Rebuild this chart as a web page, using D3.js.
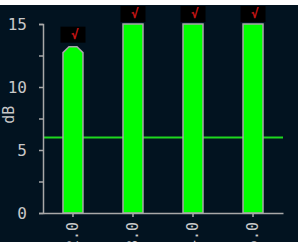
<!DOCTYPE html>
<html>
<head>
<meta charset="utf-8">
<script src="https://cdn.jsdelivr.net/npm/d3@7"></script>
<style>
  body { margin: 0; background: #fff; }
  svg { display: block; }
  text { font-family: "DejaVu Sans Mono", monospace; fill: #c8c8c8; }
</style>
</head>
<body>
<svg id="chart" width="298" height="242"></svg>
<script>
/* data */
var categories = ["2.0", "3.0", "4.0", "5.0"];
var values = [13.2, 15, 15, 15];
var threshold = 6;
var yTicks = [0, 2.5, 5, 7.5, 10, 12.5, 15];
var yLabels = [0, 5, 10, 15];
var flagText = "\u221A";

var svg = d3.select("#chart"),
    width = +svg.attr("width"),
    height = +svg.attr("height");

var margin = {left: 43, right: 15, top: 24, bottom: 29};

// dark panel
svg.append("rect")
    .attr("x", 0).attr("y", 0)
    .attr("width", width).attr("height", height)
    .attr("fill", "#021320");

var x = d3.scaleBand()
    .domain(categories)
    .range([margin.left, width - margin.right])
    .paddingInner(0.667)
    .paddingOuter(0.333);

var y = d3.scaleLinear()
    .domain([0, 15])
    .range([height - margin.bottom, margin.top]);

// threshold line (behind bars)
svg.append("line")
    .attr("x1", x.range()[0]).attr("x2", x.range()[1])
    .attr("y1", y(threshold)).attr("y2", y(threshold))
    .attr("stroke", "#1ed81e")
    .attr("stroke-width", 2);

// bars: rounded cap when the value is below the top of the scale
function barPath(d, i) {
    var x0 = x(categories[i]), x1 = x0 + x.bandwidth();
    var top = y(d), base = y(0);
    var r = d < y.domain()[1] ? 6 : 0;
    return "M" + x0 + "," + base +
        "L" + x0 + "," + (top + r) +
        "L" + (x0 + r) + "," + top +
        "L" + (x1 - r) + "," + top +
        "L" + x1 + "," + (top + r) +
        "L" + x1 + "," + base + "Z";
}

svg.append("g")
    .selectAll("path")
    .data(values)
    .enter().append("path")
    .attr("d", barPath)
    .attr("fill", "#00ff00")
    .attr("stroke", "#a8a8a8")
    .attr("stroke-width", 1.5);

// flag boxes above bars
var flags = svg.append("g")
    .selectAll("g")
    .data(values)
    .enter().append("g")
    .attr("transform", function(d, i) {
        return "translate(" + (x(categories[i]) + x.bandwidth() / 2) + "," + (y(d) - (d < 15 ? 4 : 2)) + ")";
    });

flags.append("rect")
    .attr("x", -12.5).attr("y", -16)
    .attr("width", 25).attr("height", 16)
    .attr("fill", "#000");

flags.append("text")
    .attr("x", 2).attr("y", -4)
    .attr("text-anchor", "middle")
    .style("fill", "#c01414")
    .style("font-size", "13px")
    .style("font-weight", "bold")
    .text(flagText);

// y axis
var yAxis = d3.axisLeft(y)
    .tickValues(yTicks)
    .tickSize(4)
    .tickPadding(12)
    .tickFormat(function(d) { return yLabels.indexOf(d) >= 0 ? d : ""; });

var gy = svg.append("g")
    .attr("transform", "translate(" + margin.left + ",0)")
    .call(yAxis);
gy.select(".domain").attr("stroke", "#a8a8a8").attr("stroke-width", 1.5);
gy.selectAll(".tick line").attr("stroke", "#a8a8a8").attr("stroke-width", 1.5);
gy.selectAll(".tick text")
    .style("font-size", "16px")
    .style("font-family", "DejaVu Sans Mono")
    .attr("fill", "#c8c8c8");

// x axis
var xAxis = d3.axisBottom(x).tickSize(4).tickSizeOuter(0);
var gx = svg.append("g")
    .attr("transform", "translate(0," + y(0) + ")")
    .call(xAxis);
gx.select(".domain").attr("stroke", "#a8a8a8").attr("stroke-width", 1.5);
gx.selectAll(".tick line").attr("stroke", "#a8a8a8").attr("stroke-width", 1.5);
gx.selectAll(".tick text")
    .style("font-size", "15px")
    .style("font-family", "DejaVu Sans Mono")
    .attr("fill", "#c8c8c8")
    .attr("text-anchor", "end")
    .attr("transform", "rotate(-90)")
    .attr("x", -9)
    .attr("y", 0)
    .attr("dy", "0.35em");

// axis title
svg.append("text")
    .attr("transform", "translate(14," + y(7.8) + ") rotate(-90)")
    .attr("text-anchor", "middle")
    .style("font-size", "15px")
    .text("dB");

// white strip at the very top
svg.append("rect")
    .attr("x", 0).attr("y", 0)
    .attr("width", width).attr("height", 5)
    .attr("fill", "#fff");
</script>
</body>
</html>
